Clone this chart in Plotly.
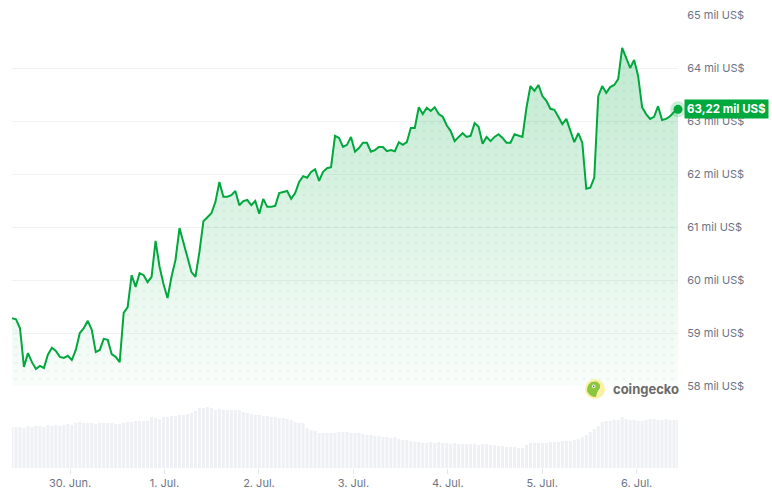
import pandas as pd
import plotly.graph_objects as go

# ---------------- data ----------------
start_time = "2024-06-29 09:14"
end_time = "2024-07-06 10:31"

price_usd = [
    59280, 59260, 59090, 58360, 58620, 58450, 58320, 58380, 58340, 58590,
    58720, 58660, 58550, 58530, 58570, 58490, 58680, 59000, 59090, 59230,
    59060, 58640, 58680, 58890, 58870, 58600, 58550, 58450, 59380, 59490,
    60090, 59870, 60130, 60090, 59960, 60060, 60740, 60250, 59920, 59660,
    60060, 60380, 60980, 60720, 60420, 60150, 60060, 60530, 61110, 61190,
    61260, 61470, 61850, 61570, 61570, 61600, 61680, 61410, 61490, 61510,
    61410, 61490, 61250, 61530, 61380, 61380, 61400, 61640, 61660, 61680,
    61530, 61640, 61850, 61960, 61930, 62040, 62090, 61870, 62040, 62110,
    62130, 62720, 62680, 62510, 62550, 62700, 62420, 62490, 62590, 62590,
    62420, 62450, 62510, 62510, 62430, 62450, 62430, 62600, 62550, 62600,
    62870, 62870, 63260, 63130, 63250, 63190, 63260, 63130, 63080, 62920,
    62810, 62620, 62700, 62770, 62700, 62720, 62960, 62890, 62570, 62700,
    62620, 62700, 62750, 62680, 62590, 62590, 62750, 62720, 62700, 63250,
    63660, 63570, 63680, 63470, 63380, 63230, 63210, 63080, 62940, 63040,
    62830, 62600, 62770, 62590, 61720, 61740, 61930, 63470, 63660, 63530,
    63640, 63680, 63790, 64380, 64190, 64000, 64150, 63850, 63260, 63130,
    63040, 63080, 63280, 63020, 63040, 63090, 63170, 63220,
]

volume_b = [
    41, 41, 41, 40, 42, 41, 42, 42, 41, 43, 42, 43, 42, 43, 44, 43,
    45, 46, 45, 45, 45, 44, 45, 45, 45, 45, 44, 44, 45, 46, 46, 47,
    47, 47, 47, 51, 50, 49, 51, 51, 52, 52, 53, 53, 54, 55, 57, 60,
    60, 61, 60, 58, 59, 58, 58, 58, 58, 58, 56, 55, 54, 53, 53, 52,
    52, 51, 51, 50, 50, 49, 48, 46, 45, 45, 40, 38, 37, 35, 35, 35,
    35, 35, 36, 36, 36, 35, 35, 35, 34, 33, 33, 32, 32, 31, 31, 30,
    31, 29, 28, 28, 27, 26, 26, 25, 25, 26, 25, 26, 25, 25, 24, 25,
    24, 24, 24, 24, 24, 23, 24, 24, 23, 23, 22, 22, 21, 21, 21, 20,
    20, 23, 25, 25, 25, 25, 25, 26, 26, 26, 27, 27, 27, 28, 29, 31,
    33, 36, 39, 42, 46, 47, 47, 48, 48, 51, 49, 48, 48, 47, 47, 48,
    49, 49, 48, 48, 49, 48, 48, 48,
]

y_ticks = [58000, 59000, 60000, 61000, 62000, 63000, 64000, 65000]
y_tick_text = [f"{v // 1000} mil US$" for v in y_ticks]
x_ticks = ["2024-06-30", "2024-07-01", "2024-07-02", "2024-07-03",
           "2024-07-04", "2024-07-05", "2024-07-06"]
x_tick_text = ["30. Jun.", "1. Jul.", "2. Jul.", "3. Jul.", "4. Jul.", "5. Jul.", "6. Jul."]
last_label = "63,22 mil US$"

# ---------------- figure ----------------
times = pd.date_range(start_time, end_time, periods=len(price_usd))
GREEN = "#00a83e"
GRAY_TXT = "#6b7385"
FONT = "Inter"

fig = go.Figure()

# volume bars
fig.add_trace(go.Bar(x=times, y=volume_b, yaxis="y2", marker=dict(color="#eef0f3", line=dict(width=0)),
                     hoverinfo="skip", showlegend=False))

# gradient fill
fig.add_trace(go.Scatter(
    x=times, y=price_usd, mode="lines", line=dict(width=0, color=GREEN),
    fill="tozeroy",
    fillgradient=dict(type="vertical", start=58000, stop=64400,
                      colorscale=[[0, "rgba(0,168,62,0.02)"], [1, "rgba(0,168,62,0.25)"]]),
    hoverinfo="skip", showlegend=False))

# dotted pattern fill
fig.add_trace(go.Scatter(
    x=times, y=price_usd, mode="lines", line=dict(width=0, color=GREEN),
    fill="tozeroy", fillcolor="rgba(0,0,0,0)",
    fillpattern=dict(shape=".", size=8, solidity=0.12, fgcolor="rgba(0,140,55,0.10)",
                     bgcolor="rgba(0,0,0,0)"),
    hoverinfo="skip", showlegend=False))

# price line
fig.add_trace(go.Scatter(x=times, y=price_usd, mode="lines",
                         line=dict(width=2, color=GREEN), showlegend=False))

# end point halo + dot
fig.add_trace(go.Scatter(x=[times[-1]], y=[price_usd[-1]], mode="markers",
                         marker=dict(size=16, color="rgba(0,168,62,0.2)"),
                         cliponaxis=False, showlegend=False))
fig.add_trace(go.Scatter(x=[times[-1]], y=[price_usd[-1]], mode="markers",
                         marker=dict(size=9, color=GREEN),
                         cliponaxis=False, showlegend=False))

W, H = 772, 494
ml, mr, mt, mb = 12, 94, 15, 26
pw, ph = W - ml - mr, H - mt - mb


def px(xp):
    return (xp - ml) / pw


def py(yp):
    return (H - mb - yp) / ph


price_bottom = py(386)

fig.update_layout(
    width=W, height=H,
    margin=dict(l=ml, r=mr, t=mt, b=mb, autoexpand=False),
    paper_bgcolor="white", plot_bgcolor="white",
    font=dict(family=FONT, size=11, color=GRAY_TXT),
    bargap=0.25,
    xaxis=dict(type="date", range=[times[0], times[-1]], anchor="y2", automargin=False,
               tickvals=x_ticks, ticktext=x_tick_text, showgrid=False,
               ticks="outside", ticklen=5, tickcolor="#e3e6ea",
               showline=False, zeroline=False,
               tickfont=dict(size=11, color=GRAY_TXT, family=FONT)),
    yaxis=dict(domain=[price_bottom, 1], range=[58000, 65000], side="right", automargin=False,
               tickvals=y_ticks, ticktext=y_tick_text,
               showgrid=True, gridcolor="#f1f2f4", gridwidth=1,
               ticks="outside", ticklen=6, tickcolor="rgba(0,0,0,0)",
               zeroline=False, showline=False,
               tickfont=dict(size=11, color=GRAY_TXT, family=FONT)),
    yaxis2=dict(domain=[0, 0.17], range=[0, 0.17 * ph], visible=False, fixedrange=True),
)

# coingecko watermark
fig.add_shape(type="circle", xref="paper", yref="paper",
              x0=px(585), x1=px(605), y0=py(399), y1=py(379),
              fillcolor="#fbf1a6", line=dict(width=0), layer="above")
fig.add_shape(type="path", xref="paper", yref="paper",
              path=(f"M {px(587)},{py(391)} "
                    f"Q {px(587)},{py(381)} {px(596)},{py(381.5)} "
                    f"Q {px(601)},{py(383)} {px(600)},{py(388)} "
                    f"Q {px(597)},{py(391)} {px(596)},{py(397)} "
                    f"Q {px(590)},{py(397)} {px(587)},{py(391)} Z"),
              fillcolor="#8cc63f", line=dict(width=0), layer="above")
fig.add_shape(type="circle", xref="paper", yref="paper",
              x0=px(592), x1=px(595.5), y0=py(388), y1=py(384.5),
              fillcolor="white", line=dict(width=0), layer="above")
fig.add_shape(type="circle", xref="paper", yref="paper",
              x0=px(593), x1=px(594.5), y0=py(387), y1=py(385.5),
              fillcolor="#333333", line=dict(width=0), layer="above")
fig.add_annotation(xref="paper", yref="paper", x=px(611), y=py(389),
                   xanchor="left", yanchor="middle", showarrow=False,
                   text="<b>coingecko</b>", font=dict(size=13, color="#6a6a6a", family=FONT))

# last price label
fig.add_annotation(xref="paper", yref="y", x=px(684), y=price_usd[-1],
                   xanchor="left", yanchor="middle", showarrow=False,
                   text=f"<b>{last_label}</b>", bgcolor=GREEN, borderpad=2,
                   font=dict(size=11.5, color="white", family=FONT))

fig.write_html("out.html")
